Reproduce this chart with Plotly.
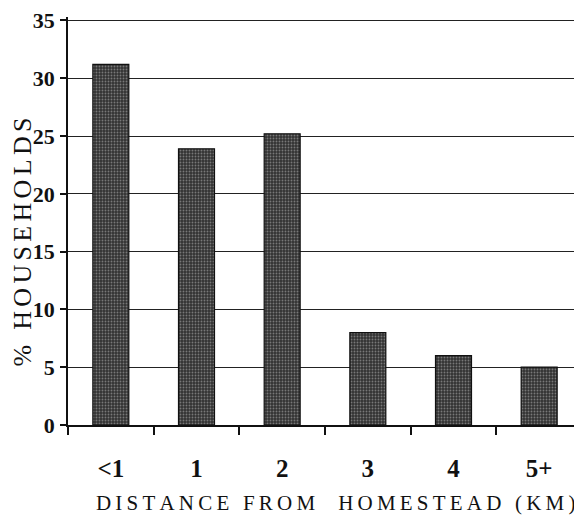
import plotly.graph_objects as go

categories = ["<1", "1", "2", "3", "4", "5+"]
values = [31.2, 23.9, 25.2, 8.0, 6.0, 5.0]
y_ticks = [0, 5, 10, 15, 20, 25, 30, 35]

x_title = "\u2009".join(list("DISTANCE FROM  HOMESTEAD (KM)"))
y_title = "\u2006".join(list("% HOUSEHOLDS"))

fig = go.Figure()
fig.add_trace(go.Bar(
    x=categories, y=values, width=0.42,
    marker=dict(
        color="#333333",
        line=dict(color="#111111", width=1.2),
        pattern=dict(shape=".", fgcolor="#bdbdbd", bgcolor="#333333", size=3, solidity=0.3),
    ),
))

# page body has an 8px default margin, so the figure is 8px smaller and shifted
fig.update_layout(
    width=574, height=510,
    margin=dict(l=60, r=0, t=8.5, b=93),
    paper_bgcolor="white", plot_bgcolor="white",
    showlegend=False,
    font=dict(family="Liberation Serif", color="#111111"),
    annotations=[
        dict(text=y_title, textangle=-90, xref="paper", yref="paper",
             x=0, y=0.447, xshift=-45, xanchor="center", yanchor="middle",
             showarrow=False, font=dict(size=26, family="Liberation Serif")),
        dict(text=x_title, xref="paper", yref="paper",
             x=0.52, y=0, yshift=-78, xanchor="center", yanchor="middle",
             showarrow=False, font=dict(size=21, family="Liberation Serif")),
    ],
)
fig.update_xaxes(
    range=[-0.5, 5.5], automargin=False,
    showline=True, linecolor="#111111", linewidth=1.5,
    ticks="outside", tickson="boundaries", ticklen=8, tickcolor="#111111", tickwidth=1.5,
    tickfont=dict(size=25, family="Liberation Serif", weight="bold"),
    ticklabelstandoff=20,
    showgrid=False,
)
fig.update_yaxes(
    range=[0, 35.3], tickvals=y_ticks, automargin=False,
    showline=True, linecolor="#111111", linewidth=1.5,
    ticks="outside", ticklen=6, tickcolor="#111111", tickwidth=1.5,
    tickfont=dict(size=22, family="Liberation Serif", weight="bold"),
    ticklabelstandoff=1, ticklabeloverflow="allow",
    showgrid=True, gridcolor="#222222", gridwidth=1.3,
    zeroline=False,
)

fig.write_html("out.html")
